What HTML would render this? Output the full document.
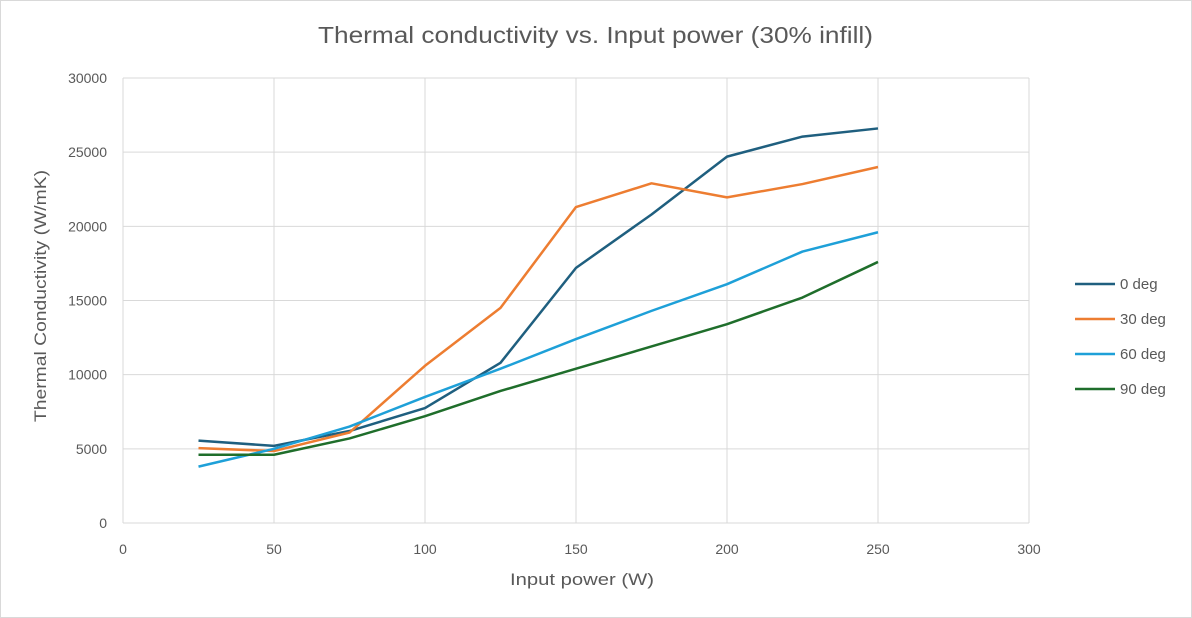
<!DOCTYPE html>
<html><head><meta charset="utf-8"><style>
html,body{margin:0;padding:0;background:#fff}
svg{display:block;font-family:"Liberation Sans",sans-serif}
</style></head><body>
<svg id="chart" width="1192" height="618">
<rect x="0.5" y="0.5" width="1191" height="617" fill="#fff" stroke="#d9d9d9"/>
<text x="318" y="43" font-size="23" fill="#595959" textLength="555" lengthAdjust="spacingAndGlyphs">Thermal conductivity vs. Input power (30% infill)</text>
<g id="grid"></g><g id="axes"></g><g id="series"></g><g id="legend"></g>
<text x="510" y="585" font-size="17" fill="#595959" textLength="144" lengthAdjust="spacingAndGlyphs">Input power (W)</text>
<text transform="translate(46,422) rotate(-90)" font-size="17" fill="#595959" textLength="252" lengthAdjust="spacingAndGlyphs">Thermal Conductivity (W/mK)</text>
</svg>
<script>
const xs=[25,50,75,100,125,150,175,200,225,250];
const s0=[5550,5200,6200,7750,10800,17200,20800,24700,26050,26600];
const s30=[5050,4850,6100,10600,14500,21300,22900,21950,22850,24000];
const s60=[3800,5000,6500,8500,10400,12400,14300,16100,18300,19600];
const s90=[4600,4600,5700,7200,8900,10400,11900,13400,15200,17600];
const names=["0 deg","30 deg","60 deg","90 deg"];
const colors=["#1f5f7f","#ed7d31","#1ea0d8","#1f6e2b"];
const xTicks=[0,50,100,150,200,250,300];
const yTicks=[0,5000,10000,15000,20000,25000,30000];
const X=v=>123+v*(1029-123)/300, Y=v=>523-v*(523-78)/30000;
const NS="http://www.w3.org/2000/svg";
function mk(t,a,p){const e=document.createElementNS(NS,t);for(const k in a)e.setAttribute(k,a[k]);p.appendChild(e);return e;}
const g=document.getElementById('grid'),ax=document.getElementById('axes'),sg=document.getElementById('series'),lg=document.getElementById('legend');
yTicks.forEach(v=>{
 const l=mk('line',{x1:X(0),x2:X(300),y1:Y(v),y2:Y(v),stroke:'#d9d9d9','stroke-width':1},g);
 
 
 const t=mk('text',{x:107,y:Y(v)+5,'text-anchor':'end','font-size':14,fill:'#595959'},ax);t.textContent=v;
 
 
});
xTicks.forEach(v=>{
 const l=mk('line',{x1:X(v),x2:X(v),y1:Y(0),y2:Y(30000),stroke:'#d9d9d9','stroke-width':1},g);
 
 
 const t=mk('text',{x:X(v),y:554,'text-anchor':'middle','font-size':14,fill:'#595959'},ax);t.textContent=v;
 
 
});
[s0,s30,s60,s90].forEach((s,i)=>{
 const p=mk('polyline',{points:s.map((v,j)=>X(xs[j])+','+Y(v)).join(' '),fill:'none',stroke:colors[i],'stroke-width':2.5,'stroke-linejoin':'round'},sg);
 
 
 const y=284+i*35;
 const ll=mk('line',{x1:1075,x2:1115,y1:y,y2:y,stroke:colors[i],'stroke-width':2.5},lg);
 
 
 const t=mk('text',{x:1120,y:y+5,'font-size':15,fill:'#595959'},lg);t.textContent=names[i];
 
 
});
</script>
</body></html>
